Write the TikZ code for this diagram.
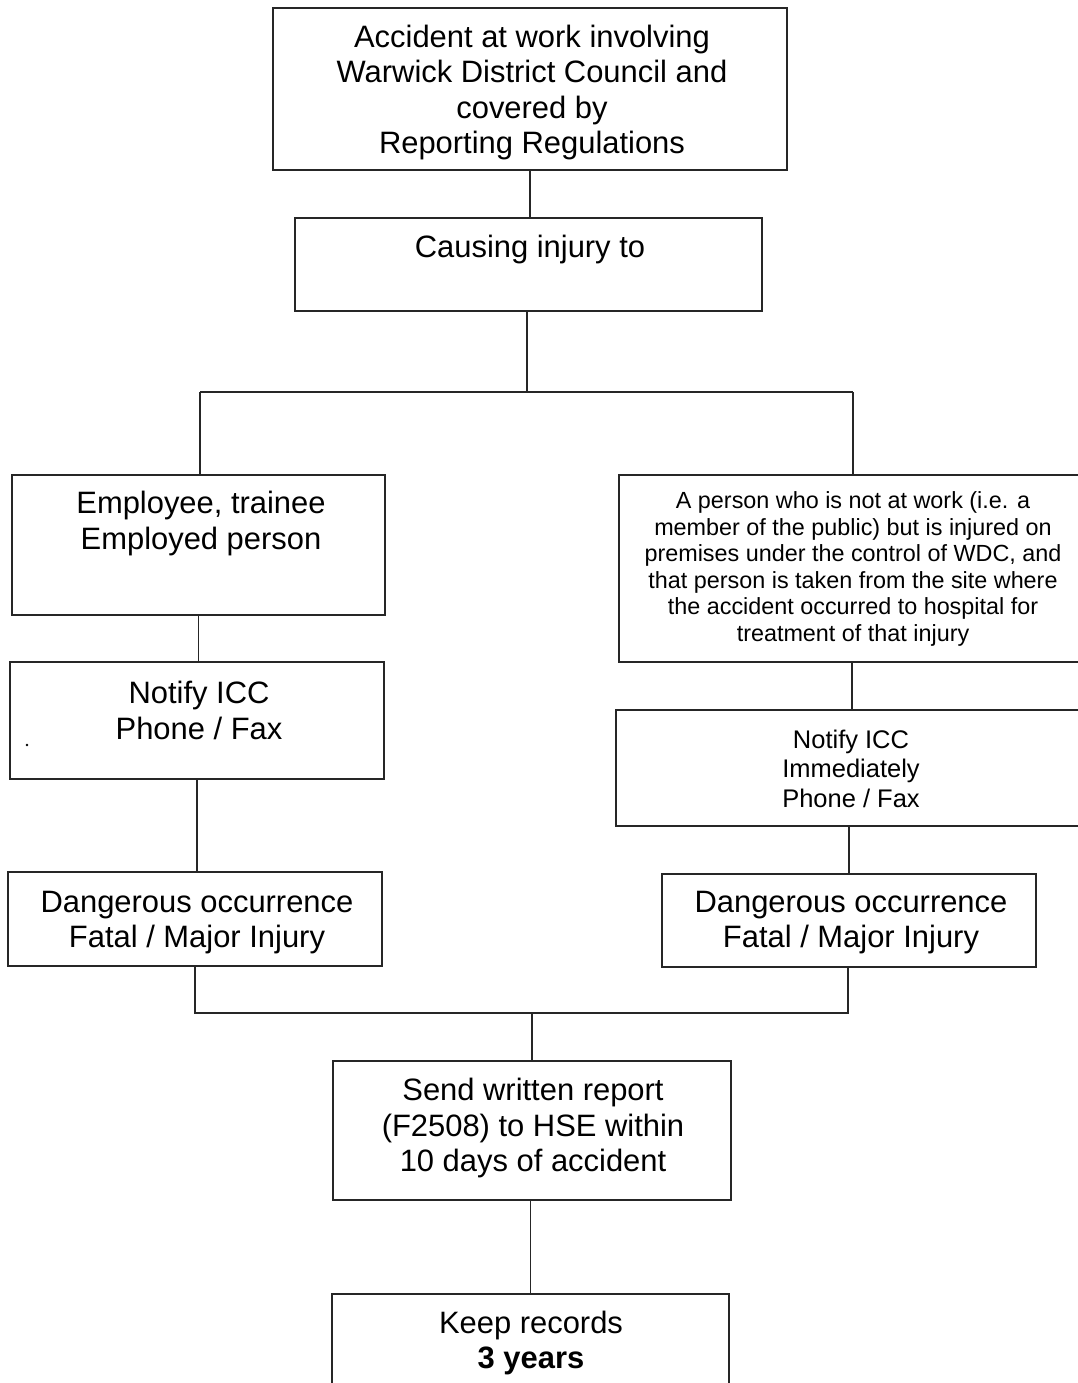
\documentclass[tikz,border=0pt]{standalone}
\usepackage{fontspec}
\setmainfont{Liberation Sans}
\usetikzlibrary{fit}
\begin{document}
\begin{tikzpicture}[x=0.02cm,y=-0.02cm,
  box/.style={draw=black!85, line width=0.8pt, inner sep=0pt, rectangle},
  txt/.style={align=center, inner sep=0pt, font=\fontsize{17.6}{20.2}\selectfont},
  smalltxt/.style={align=center, inner sep=0pt, font=\fontsize{13.3}{15.1}\selectfont},
  midtxt/.style={align=center, inner sep=0pt, font=\fontsize{14.5}{16.8}\selectfont},
  conn/.style={draw=black!85, line width=0.8pt}]
\useasboundingbox (0,0) rectangle (1078,1383);
\clip (0,0) rectangle (1078,1383);
\fill[white] (0,0) rectangle (1078,1383);

% boxes
\node[box, fit={(273,8) (787,170)}] (top) {};
\node[box, fit={(295,218) (762,311)}] (cause) {};
\node[box, fit={(12,475) (385,615)}] (emp) {};
\node[box, fit={(619,475) (1090,662)}] (person) {};
\node[box, fit={(10,662) (384,779)}] (nl) {};
\node[box, fit={(616,710) (1090,826)}] (nr) {};
\node[box, fit={(8,872) (382,966)}] (dl) {};
\node[box, fit={(662,874) (1036,967)}] (dr) {};
\node[box, fit={(333,1061) (731,1200)}] (send) {};
\node[box, fit={(332,1294) (729,1400)}] (keep) {};

% texts
\node[txt] (ttop) at (532,92.5) {Accident at work involving\\Warwick District Council and\\covered by\\Reporting Regulations};
\node[txt] (tcause) at (530,249) {Causing injury to};
\node[txt] (temp) at (201,523.5) {Employee, trainee\\Employed person};
\node[smalltxt] (tperson) at (853,569) {A person who is not at work (i.e. a\\member of the public) but is injured on\\premises under the control of WDC, and\\that person is taken from the site where\\the accident occurred to hospital for\\treatment of that injury};
\node[txt] (tnl) at (199,710.5) {Notify ICC\\Phone / Fax};
\node[midtxt] (tnr) at (851,768.5) {Notify ICC\\Immediately\\Phone / Fax};
\node[txt] (tdl) at (197,922.5) {Dangerous occurrence\\Fatal / Major Injury};
\node[txt] (tdr) at (851,922.5) {Dangerous occurrence\\Fatal / Major Injury};
\node[txt] (tsend) at (533,1128) {Send written report\\(F2508) to HSE within\\10 days of accident};
\node[txt] (tkeep) at (531,1343) {Keep records\\\textbf{3 years}};

% stray dot
\fill[black] (27,745) circle (1.4);

% coordinates
\coordinate (sl) at (200,392);
\coordinate (sr) at (853,392);
\coordinate (sm) at (527,392);
\coordinate (xr) at (852,0);
\coordinate (ml) at (195,1013);
\coordinate (mr) at (848,1013);
\coordinate (mm) at (532,1013);

% connectors
\draw[conn] (top.south) -- (top.south |- cause.north);
\draw[conn] (cause.south -| sm) -- (sm);
\draw[conn] (sl) -- (sr);
\draw[conn] (sl) -- (sl |- emp.north);
\draw[conn] (sr) -- (sr |- person.north);
\draw[conn] (emp.south) -- (emp.south |- nl.north);
\draw[conn] (nl.south) -- (nl.south |- dl.north);
\draw[conn] (person.south -| xr) -- (nr.north -| xr);
\draw[conn] (dr.north) -- (dr.north |- nr.south);
\draw[conn] (dl.south -| ml) -- (ml) -- (mr) -- (dr.south -| mr);
\draw[conn] (mm) -- (mm |- send.north);
\draw[conn] (keep.north) -- (keep.north |- send.south);
\end{tikzpicture}
\end{document}
